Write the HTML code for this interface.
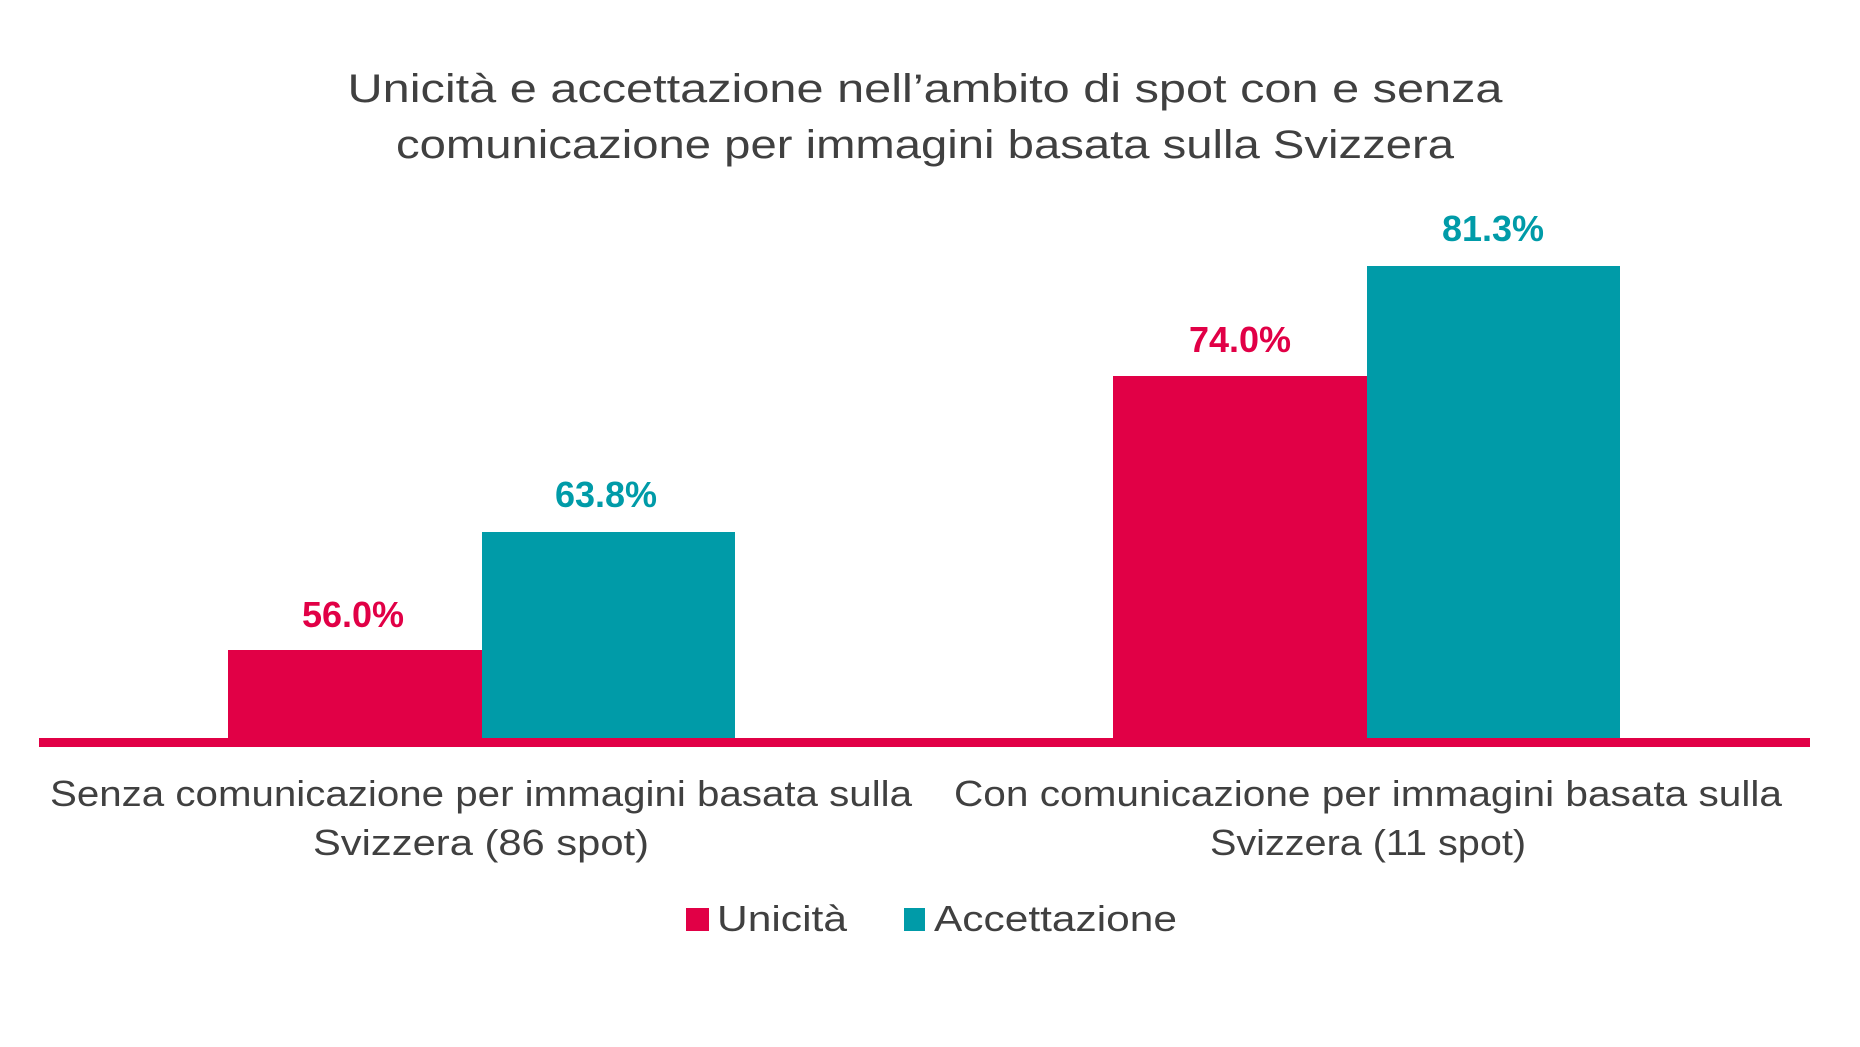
<!DOCTYPE html>
<html><head><meta charset="utf-8"><style>html,body{margin:0;padding:0;background:#fff}svg{display:block}</style></head>
<body>
<svg width="1860" height="1047" viewBox="0 0 1860 1047" xmlns="http://www.w3.org/2000/svg" font-family="Liberation Sans, sans-serif">
<rect width="1860" height="1047" fill="#fff"/>
<g fill="#404040" font-size="40" text-anchor="middle">
<text x="925" y="102" textLength="1155" lengthAdjust="spacingAndGlyphs">Unicità e accettazione nell’ambito di spot con e senza</text>
<text x="925" y="158" textLength="1058" lengthAdjust="spacingAndGlyphs">comunicazione per immagini basata sulla Svizzera</text>
</g>
<rect x="228" y="650" width="255" height="92" fill="#e10046"/>
<rect x="482" y="532" width="253" height="210" fill="#009ba8"/>
<rect x="1113" y="376" width="255" height="366" fill="#e10046"/>
<rect x="1367" y="266" width="253" height="476" fill="#009ba8"/>
<rect x="39" y="738" width="1771" height="9" fill="#e10046"/>
<g font-size="36" font-weight="bold" text-anchor="middle">
<text x="353" y="627" fill="#e10046">56.0%</text>
<text x="606" y="507" fill="#009ba8">63.8%</text>
<text x="1240" y="352" fill="#e10046">74.0%</text>
<text x="1493" y="241" fill="#009ba8">81.3%</text>
</g>
<g fill="#404040" font-size="36" text-anchor="middle">
<text x="481" y="806" textLength="862" lengthAdjust="spacingAndGlyphs">Senza comunicazione per immagini basata sulla</text>
<text x="481" y="855" textLength="336" lengthAdjust="spacingAndGlyphs">Svizzera (86 spot)</text>
<text x="1368" y="806" textLength="828" lengthAdjust="spacingAndGlyphs">Con comunicazione per immagini basata sulla</text>
<text x="1368" y="855" textLength="316" lengthAdjust="spacingAndGlyphs">Svizzera (11 spot)</text>
</g>
<rect x="686" y="908" width="23" height="23" fill="#e10046"/>
<rect x="904" y="908" width="21" height="23" fill="#009ba8"/>
<g fill="#404040" font-size="36">
<text x="717" y="931" textLength="130" lengthAdjust="spacingAndGlyphs">Unicità</text>
<text x="934" y="931" textLength="243" lengthAdjust="spacingAndGlyphs">Accettazione</text>
</g>
</svg>
</body></html>
